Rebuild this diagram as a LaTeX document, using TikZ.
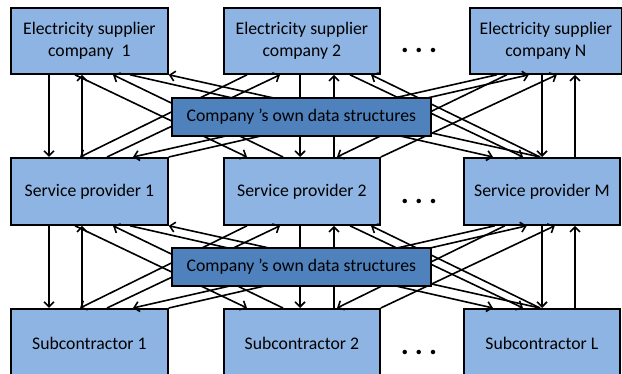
\documentclass[tikz,border=0pt]{standalone}
\usepackage{fontspec}
\setmainfont{Carlito}
\usetikzlibrary{arrows.meta}
\definecolor{boxlight}{RGB}{142,180,227}
\definecolor{boxdark}{RGB}{79,129,189}
\newcommand\crosslinks[6]{%
  % verticals
  \draw[arr] ([xshift=39]#1.south west) -- ([xshift=39]#4.north west);
  \draw[arr] ([xshift=72]#4.north west) -- ([xshift=72]#1.south west);
  \draw[arr] ([xshift=77]#2.south west) -- ([xshift=77]#5.north west);
  \draw[arr] ([xshift=111]#5.north west) -- ([xshift=111]#2.south west);
  \draw[arr] ([xshift=79]#6.north west |- #3.south) -- ([xshift=79]#6.north west);
  \draw[arr] ([xshift=112]#6.north west) -- ([xshift=112]#6.north west |- #3.south);
  % column 1 <-> column 2
  \draw[arr] ([xshift=65]#1.south west) -- ([xshift=24]#5.north west);
  \draw[arr] ([xshift=60]#5.north west) -- ([xshift=103]#1.south west);
  \draw[arr] ([xshift=24]#2.south west) -- ([xshift=70]#4.north west);
  \draw[arr] ([xshift=97]#4.north west) -- ([xshift=57]#2.south west);
  % column 1 <-> column 3
  \draw[arr] ([xshift=120]#1.south west) -- ([xshift=30]#6.north west);
  \draw[arr] ([xshift=77]#6.north west) -- (#1.south east);
  \draw[arr] ([xshift=-126]#3.south east) -- ([xshift=123]#4.north west);
  \draw[arr] (#4.north east) -- ([xshift=-94]#3.south east);
  % column 2 <-> column 3
  \draw[arr] ([xshift=127]#2.south west) -- ([xshift=60]#6.north west);
  \draw[arr] ([xshift=77]#6.north west) -- ([xshift=148]#2.south west);
  \draw[arr] ([xshift=-116]#3.south east) -- ([xshift=114]#5.north west);
  \draw[arr] (#5.north east) -- ([xshift=-66]#3.south east);
}
\begin{document}
\begin{tikzpicture}[x=1pt,y=-1pt,
  entity/.style={draw=black, line width=1.8pt, fill=boxlight, anchor=north west,
    inner sep=0pt, align=center, font=\fontsize{17.7}{21.5}\selectfont},
  store/.style={draw=black, line width=1.8pt, fill=boxdark, anchor=north west,
    inner sep=0pt, align=center, minimum width=259pt, minimum height=38pt,
    font=\fontsize{17.7}{21.5}\selectfont},
  arr/.style={-{Straight Barb[length=5pt,width=10pt,line width=1.6pt]}, line width=1.6pt},
  dotsep/.style={anchor=base, inner sep=0pt, font=\fontsize{30}{30}\selectfont\bfseries}]
\useasboundingbox (0,0) rectangle (622,374);
\clip (0,0) rectangle (622,374);
% row 1
\node[entity, minimum width=157pt, minimum height=66pt] (e1) at (10,7) {Electricity supplier\\company~ 1};
\node[entity, minimum width=156pt, minimum height=66pt] (e2) at (223,7) {Electricity supplier\\company 2};
\node[entity, minimum width=152pt, minimum height=66pt] (en) at (469,7) {Electricity supplier\\company N};
% row 2
\node[entity, minimum width=157pt, minimum height=67pt] (s1) at (10,157) {Service provider 1};
\node[entity, minimum width=156pt, minimum height=67pt] (s2) at (223,157) {Service provider 2};
\node[entity, minimum width=156pt, minimum height=67pt] (sm) at (463,157) {Service provider M};
% row 3
\node[entity, minimum width=157pt, minimum height=70pt] (c1) at (10,308) {Subcontractor 1};
\node[entity, minimum width=156pt, minimum height=70pt] (c2) at (223,308) {Subcontractor 2};
\node[entity, minimum width=156pt, minimum height=70pt] (cl) at (463,308) {Subcontractor L};
% dots
\node[dotsep] (d1) at (419,53) {.\hspace{6pt}.\hspace{6pt}.};
\node[dotsep] (d2) at (419,204) {.\hspace{6pt}.\hspace{6pt}.};
\node[dotsep] (d3) at (419,355) {.\hspace{6pt}.\hspace{6pt}.};
% connectors
\crosslinks{e1}{e2}{en}{s1}{s2}{sm}
\crosslinks{s1}{s2}{sm}{c1}{c2}{cl}
% data stores on top
\node[store] (ds1) at (171,97) {Company ’s own data structures};
\node[store] (ds2) at (171,247) {Company ’s own data structures};
\end{tikzpicture}
\end{document}
